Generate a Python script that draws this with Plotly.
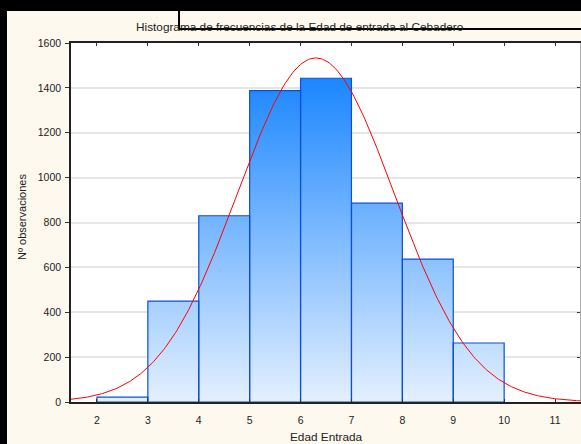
import numpy as np
import plotly.graph_objects as go

# ---- data ----
bin_edges = [2, 3, 4, 5, 6, 7, 8, 9, 10]
counts = [22, 450, 830, 1388, 1443, 886, 637, 263]
x_ticks = [2, 3, 4, 5, 6, 7, 8, 9, 10, 11]
y_ticks = [0, 200, 400, 600, 800, 1000, 1200, 1400, 1600]
fit_mean = 6.3
fit_sd = 1.54
title_text = "Histograma de frecuencias de la Edad de entrada al Cebadero"
x_title = "Edad Entrada"
y_title = "Nº observaciones"

# ---- layout geometry (page pixels) ----
PAGE_W, PAGE_H = 581, 444
OFF_X, OFF_Y = 7, 11            # black window frame on the left / top
W, H = PAGE_W - OFF_X, PAGE_H - OFF_Y
PLOT_L, PLOT_R, PLOT_T, PLOT_B = 71, 580, 43, 402
ML = PLOT_L - OFF_X
MR = PAGE_W - PLOT_R
MT = PLOT_T - OFF_Y
MB = PAGE_H - PLOT_B
PW, PH = PLOT_R - PLOT_L, PLOT_B - PLOT_T


def px_x(px):
    return (px - PLOT_L) / PW


def px_y(py):
    return (PLOT_B - py) / PH


# bar polygons built from the bins/counts
bx, by = [], []
for i, c in enumerate(counts):
    l, r = bin_edges[i], bin_edges[i + 1]
    bx += [l, l, r, r, l, None]
    by += [0, c, c, 0, 0, None]

n_total = sum(counts)
bw = bin_edges[1] - bin_edges[0]
xc = np.linspace(1.4, 11.6, 400)
yc = n_total * bw / (fit_sd * np.sqrt(2 * np.pi)) * np.exp(-0.5 * ((xc - fit_mean) / fit_sd) ** 2)

fig = go.Figure()
fig.add_trace(go.Scatter(
    x=bx, y=by, mode="lines", fill="toself",
    line=dict(color="#0b4fd6", width=1.2),
    fillgradient=dict(type="vertical",
                      colorscale=[[0, "#e4f0ff"], [1, "#1a86ff"]],
                      start=0, stop=1450),
    showlegend=False, hoverinfo="skip"))
fig.add_trace(go.Scatter(
    x=xc, y=yc, mode="lines", line=dict(color="#ff0000", width=1),
    showlegend=False, hoverinfo="skip", cliponaxis=True))
fig.add_trace(go.Scatter(x=[None], y=[None], yaxis="y2", showlegend=False))

font_family = "Liberation Sans, Arial, sans-serif"
fig.update_layout(
    width=W, height=H,
    margin=dict(l=ML, r=MR, t=MT, b=MB, pad=0),
    paper_bgcolor="#fdf9ee", plot_bgcolor="#ffffff",
    font=dict(family=font_family, size=10, color="#222222"),
    xaxis=dict(range=[1.49, 11.49], tickvals=x_ticks, ticks="inside", ticklen=3,
               tickcolor="#333333", showline=True, linecolor="#222222", linewidth=1.5,
               mirror="ticks", showgrid=False, zeroline=False,
               ticklabelstandoff=8, tickfont=dict(size=10.5)),
    yaxis=dict(range=[0, 1600], tickvals=y_ticks, ticks="outside", ticklen=4,
               tickcolor="#333333", showline=True, linecolor="#222222", linewidth=1.5,
               showgrid=True, gridcolor="#e6e6e6", gridwidth=1.5, zeroline=False,
               ticklabelstandoff=2, tickfont=dict(size=10.5)),
    yaxis2=dict(range=[0, 1600], tickvals=y_ticks, ticks="inside", ticklen=3,
                tickcolor="#333333", overlaying="y", side="right", showline=True,
                linecolor="#aaaaaa", linewidth=1, showgrid=False, zeroline=False,
                showticklabels=False),
    showlegend=False,
)

fig.add_annotation(text=title_text, xref="paper", yref="paper",
                   x=px_x(300), y=px_y(27), showarrow=False,
                   xanchor="center", yanchor="middle", font=dict(size=11.8, color="#222222"))
fig.add_annotation(text=x_title, xref="paper", yref="paper",
                   x=px_x(326), y=px_y(437), showarrow=False,
                   xanchor="center", yanchor="middle", font=dict(size=11.8, color="#222222"))
fig.add_annotation(text=y_title, xref="paper", yref="paper",
                   x=px_x(22), y=px_y(217), showarrow=False, textangle=-90,
                   xanchor="center", yanchor="middle", font=dict(size=11, color="#222222"))

# black window-frame lines
fig.add_shape(type="line", xref="paper", yref="paper", layer="above",
              x0=px_x(179), x1=px_x(179), y0=px_y(OFF_Y - 2), y1=px_y(29),
              line=dict(color="#000000", width=2))
fig.add_shape(type="line", xref="paper", yref="paper", layer="above",
              x0=px_x(179), x1=px_x(PAGE_W + 5), y0=px_y(29), y1=px_y(29),
              line=dict(color="#000000", width=2))

fig.write_html(
    "out.html",
    config={"displayModeBar": False},
    post_script=("document.body.style.margin='0';"
                 "document.body.style.padding='%dpx 0 0 %dpx';"
                 "document.body.style.background='#000000';"
                 "document.documentElement.style.background='#000000';") % (OFF_Y, OFF_X),
)
